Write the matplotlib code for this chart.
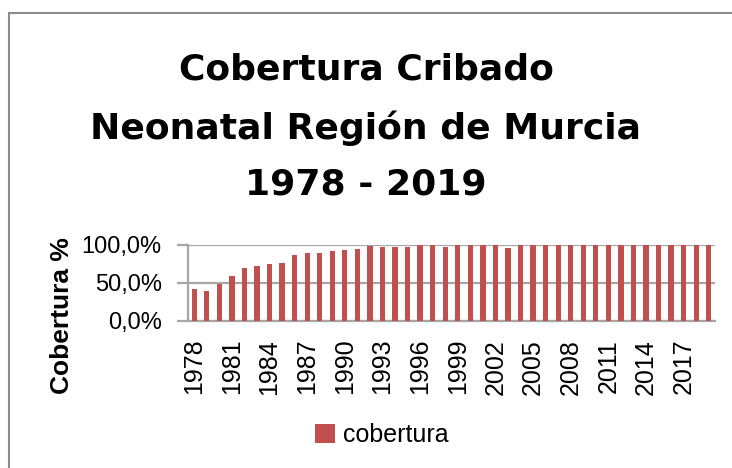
import matplotlib.pyplot as plt
from matplotlib.patches import Rectangle
from matplotlib.ticker import FuncFormatter

years = list(range(1978, 2020))
cobertura = [41.6, 39.8, 49.0, 59.0, 69.5, 72.5, 74.8, 76.0, 86.7, 90.0,
             89.4, 92.5, 94.0, 95.0, 98.7, 96.8, 98.0, 98.0, 99.5, 99.6,
             98.0, 99.6, 99.6, 99.4, 99.6, 96.5, 99.7, 99.7, 99.7, 99.7,
             99.7, 99.7, 99.7, 99.7, 99.7, 99.7, 99.7, 99.7, 99.7, 99.7,
             99.7, 99.7]
yticks = [0, 50, 100]

bar_color = '#C0504D'
grid_color = '#A6A6A6'

fig = plt.figure(figsize=(7.32, 4.68), dpi=100)

# chart frame (only top and left edges show in the picture)
fig.patches.append(Rectangle((9 / 732, -0.1), 1.2, 1 - 13 / 468 + 0.1,
                             transform=fig.transFigure, fill=False,
                             edgecolor='#8C8C8C', lw=1.5))

title_lines = ['Cobertura Cribado', 'Neonatal Región de Murcia', '1978 - 2019']
for line, ypix in zip(title_lines, [70, 128, 185]):
    fig.text(0.5, 1 - ypix / 468, line, ha='center', va='center',
             fontsize=26, fontweight='bold', family='DejaVu Sans')

ax = fig.add_axes([188 / 732, 1 - 320.7 / 468, (715 - 188) / 732, (320.7 - 245) / 468])
x = range(len(years))
bars = ax.bar(x, cobertura, width=0.42, color=bar_color, label='cobertura', zorder=3)

ax.set_xlim(-0.5, len(years) - 0.5)
ax.set_ylim(0, 100)
ax.set_yticks(yticks)
ax.yaxis.set_major_formatter(FuncFormatter(lambda v, p: ('%.1f%%' % v).replace('.', ',')))
ax.yaxis.grid(True, color=grid_color, lw=1.6, zorder=0)
ax.tick_params(axis='y', length=8, width=1.6, color=grid_color, pad=11,
               labelsize=17, labelfontfamily='Liberation Sans')
ax.set_xticks(list(x)[::3])
ax.set_xticklabels([str(y) for y in years[::3]], rotation=90,
                   fontsize=18, family='Liberation Sans')
ax.tick_params(axis='x', length=0, pad=13)
for s in ['top', 'right']:
    ax.spines[s].set_visible(False)
ax.spines['left'].set_color(grid_color)
ax.spines['left'].set_linewidth(1.6)
ax.spines['bottom'].set_color(grid_color)
ax.spines['bottom'].set_linewidth(1.6)

fig.text(62 / 732, 1 - 316 / 468, 'Cobertura %', rotation=90, ha='center', va='center',
         fontsize=19, fontweight='bold', family='Liberation Sans')

fig.legend(handles=[bars], labels=['cobertura'], loc='center',
           bbox_to_anchor=(382 / 732, 1 - 435 / 468), frameon=False,
           prop={'family': 'Liberation Sans', 'size': 18},
           handlelength=0.8, handleheight=0.8, handletextpad=0.3)

fig.savefig('out.png', dpi=100)
